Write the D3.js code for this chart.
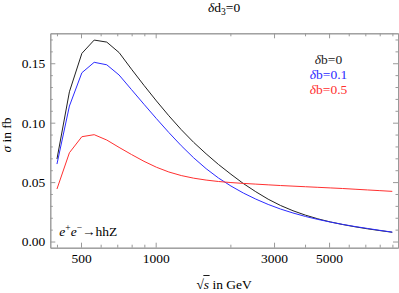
<!DOCTYPE html>
<html>
<head>
<meta charset="utf-8">
<script src="https://cdn.jsdelivr.net/npm/d3@7"></script>
<style>
body { margin: 0; background: #fff; }
svg { display: block; font-family: "Liberation Serif", "DejaVu Serif", serif; }
</style>
</head>
<body>
<div id="chart"></div>
<script>
// sqrt(s) in GeV, sampled points of the curves
var energies = [400, 449, 504, 565, 635, 712, 799, 897, 1007, 1130, 1268, 1423, 1597, 1792,
                2011, 2256, 2532, 2841, 3188, 3577, 4014, 4504, 5054, 5671, 6363, 7140, 8011, 8989];
// sigma in fb for the three delta b values
var sigmaDb0 = [0.0694, 0.1260, 0.1583, 0.1695, 0.1678, 0.1590, 0.1450, 0.1314, 0.1183, 0.1058,
                0.0941, 0.0834, 0.0738, 0.0648, 0.0566, 0.0488, 0.0419, 0.0356, 0.0303, 0.0259,
                0.0222, 0.0191, 0.0165, 0.0143, 0.0124, 0.0107, 0.0092, 0.0078];
var sigmaDb01 = [0.0652, 0.1140, 0.1420, 0.1508, 0.1487, 0.1401, 0.1278, 0.1155, 0.1034, 0.0917,
                 0.0806, 0.0704, 0.0613, 0.0534, 0.0467, 0.0408, 0.0357, 0.0312, 0.0273, 0.0240,
                 0.0211, 0.0186, 0.0164, 0.0144, 0.0126, 0.0110, 0.0094, 0.0079];
var sigmaDb05 = [0.0442, 0.0747, 0.0882, 0.0899, 0.0854, 0.0792, 0.0732, 0.0675, 0.0625, 0.0585,
                 0.0555, 0.0533, 0.0517, 0.0505, 0.0496, 0.0489, 0.0483, 0.0477, 0.0471, 0.0466,
                 0.0461, 0.0456, 0.0451, 0.0446, 0.0440, 0.0434, 0.0428, 0.0422];
var legendLabels = ["δb=0", "δb=0.1", "δb=0.5"];

var xMajorTicks = [500, 1000, 3000, 5000];
var xMinorTicks = [400, 600, 700, 800, 900, 2000, 4000, 6000, 7000, 8000, 9000];
var yMajorTicks = [0, 0.05, 0.10, 0.15];
var yMinorTicks = [0.01, 0.02, 0.03, 0.04, 0.06, 0.07, 0.08, 0.09, 0.11, 0.12, 0.13, 0.14, 0.16, 0.17];

var colors = ["#222222", "#2b2bff", "#ff3030"];
var frameColor = "#999999";

var fullwidth = 399, fullheight = 293;
var frameLeft = 50.3, frameRight = 398, frameTop = 33.3, frameBottom = 247.7;

var svg = d3.select("#chart").append("svg")
    .attr("width", fullwidth)
    .attr("height", fullheight);

var xScale = d3.scaleLog()
    .domain([376, 9480])
    .range([frameLeft, frameRight]);
var yScale = d3.scaleLinear()
    .domain([-0.0052, 0.1752])
    .range([frameBottom, frameTop]);

function styleAxis(g) {
    g.selectAll("path").attr("stroke", frameColor).attr("stroke-width", 1);
    g.selectAll("line").attr("stroke", frameColor).attr("stroke-width", 1);
    g.selectAll("text").attr("fill", "#000").style("font-size", "13.5px")
        .style("font-family", '"Liberation Serif", serif');
}

// bottom / top frame with ticks pointing inward
svg.append("g")
    .attr("transform", "translate(0," + frameBottom + ")")
    .call(d3.axisBottom(xScale).tickValues(xMajorTicks).tickFormat(d3.format("d"))
        .tickSizeInner(-5).tickSizeOuter(0).tickPadding(6))
    .call(styleAxis);
svg.append("g")
    .attr("transform", "translate(0," + frameBottom + ")")
    .call(d3.axisBottom(xScale).tickValues(xMinorTicks).tickFormat("")
        .tickSizeInner(-3).tickSizeOuter(0))
    .call(styleAxis);
svg.append("g")
    .attr("transform", "translate(0," + frameTop + ")")
    .call(d3.axisTop(xScale).tickValues(xMajorTicks).tickFormat("")
        .tickSizeInner(-5).tickSizeOuter(0))
    .call(styleAxis);
svg.append("g")
    .attr("transform", "translate(0," + frameTop + ")")
    .call(d3.axisTop(xScale).tickValues(xMinorTicks).tickFormat("")
        .tickSizeInner(-3).tickSizeOuter(0))
    .call(styleAxis);

// left / right frame
svg.append("g")
    .attr("transform", "translate(" + frameLeft + ",0)")
    .call(d3.axisLeft(yScale).tickValues(yMajorTicks).tickFormat(d3.format(".2f"))
        .tickSizeInner(-5).tickSizeOuter(0).tickPadding(5))
    .call(styleAxis);
svg.append("g")
    .attr("transform", "translate(" + frameLeft + ",0)")
    .call(d3.axisLeft(yScale).tickValues(yMinorTicks).tickFormat("")
        .tickSizeInner(-2.5).tickSizeOuter(0))
    .call(styleAxis);
svg.append("g")
    .attr("transform", "translate(" + frameRight + ",0)")
    .call(d3.axisRight(yScale).tickValues(yMajorTicks).tickFormat("")
        .tickSizeInner(-5).tickSizeOuter(0))
    .call(styleAxis);
svg.append("g")
    .attr("transform", "translate(" + frameRight + ",0)")
    .call(d3.axisRight(yScale).tickValues(yMinorTicks).tickFormat("")
        .tickSizeInner(-2.5).tickSizeOuter(0))
    .call(styleAxis);

// curves
var series = [sigmaDb0, sigmaDb01, sigmaDb05];
var line = d3.line()
    .x(function(d, i) { return xScale(energies[i]); })
    .y(function(d) { return yScale(d); });

svg.append("g").selectAll("path.curve")
    .data(series)
    .enter()
    .append("path")
        .attr("class", "curve")
        .attr("d", function(d) { return line(d); })
        .attr("fill", "none")
        .attr("stroke", function(d, i) { return colors[i]; })
        .attr("stroke-width", 1);

// title
var title = svg.append("text")
    .attr("x", (frameLeft + frameRight) / 2)
    .attr("y", 11.7)
    .attr("text-anchor", "middle")
    .style("font-size", "13.5px");
title.append("tspan").style("font-style", "italic").text("δ");
title.append("tspan").text("d");
title.append("tspan").attr("dy", 3).style("font-size", "9.5px").text("3");
title.append("tspan").attr("dy", -3).text("=0");

// legend
svg.append("g").selectAll("text")
    .data(legendLabels)
    .enter()
    .append("text")
        .attr("x", 328.5)
        .attr("y", function(d, i) { return 64 + i * 15.2; })
        .attr("text-anchor", "middle")
        .attr("fill", function(d, i) { return colors[i]; })
        .style("font-size", "13.5px")
        .each(function(d) {
            var t = d3.select(this);
            t.append("tspan").style("font-style", "italic").text(d.charAt(0));
            t.append("tspan").text(d.slice(1));
        });

// process label
var proc = svg.append("text")
    .attr("x", 59.3)
    .attr("y", 235.7)
    .style("font-size", "13.5px");
proc.append("tspan").style("font-style", "italic").text("e");
proc.append("tspan").attr("dy", -5).style("font-size", "9.5px").text("+");
proc.append("tspan").attr("dy", 5).style("font-style", "italic").text("e");
proc.append("tspan").attr("dy", -5).style("font-size", "9.5px").text("−");
proc.append("tspan").attr("dy", 5).text("→hhZ");

// y axis label
var ylab = svg.append("text")
    .attr("transform", "translate(11,135) rotate(-90)")
    .attr("text-anchor", "middle")
    .style("font-size", "13.5px");
ylab.append("tspan").style("font-style", "italic").text("σ");
ylab.append("tspan").text(" in fb");

// x axis label
var xlab = svg.append("text")
    .attr("x", (frameLeft + frameRight) / 2)
    .attr("y", 289)
    .attr("text-anchor", "middle")
    .style("font-size", "13.5px");
xlab.append("tspan").text("√");
xlab.append("tspan").style("font-style", "italic").text("s");
xlab.append("tspan").text(" in GeV");
var node = xlab.node();
var x0 = node.getStartPositionOfChar(0).x;
var wRad = node.getSubStringLength(0, 1);
var wS = node.getSubStringLength(1, 1);
svg.append("line")
    .attr("x1", x0 + wRad - 0.5)
    .attr("x2", x0 + wRad + wS + 0.5)
    .attr("y1", 275.5)
    .attr("y2", 275.5)
    .attr("stroke", "#000")
    .attr("stroke-width", 0.9);
</script>
</body>
</html>
